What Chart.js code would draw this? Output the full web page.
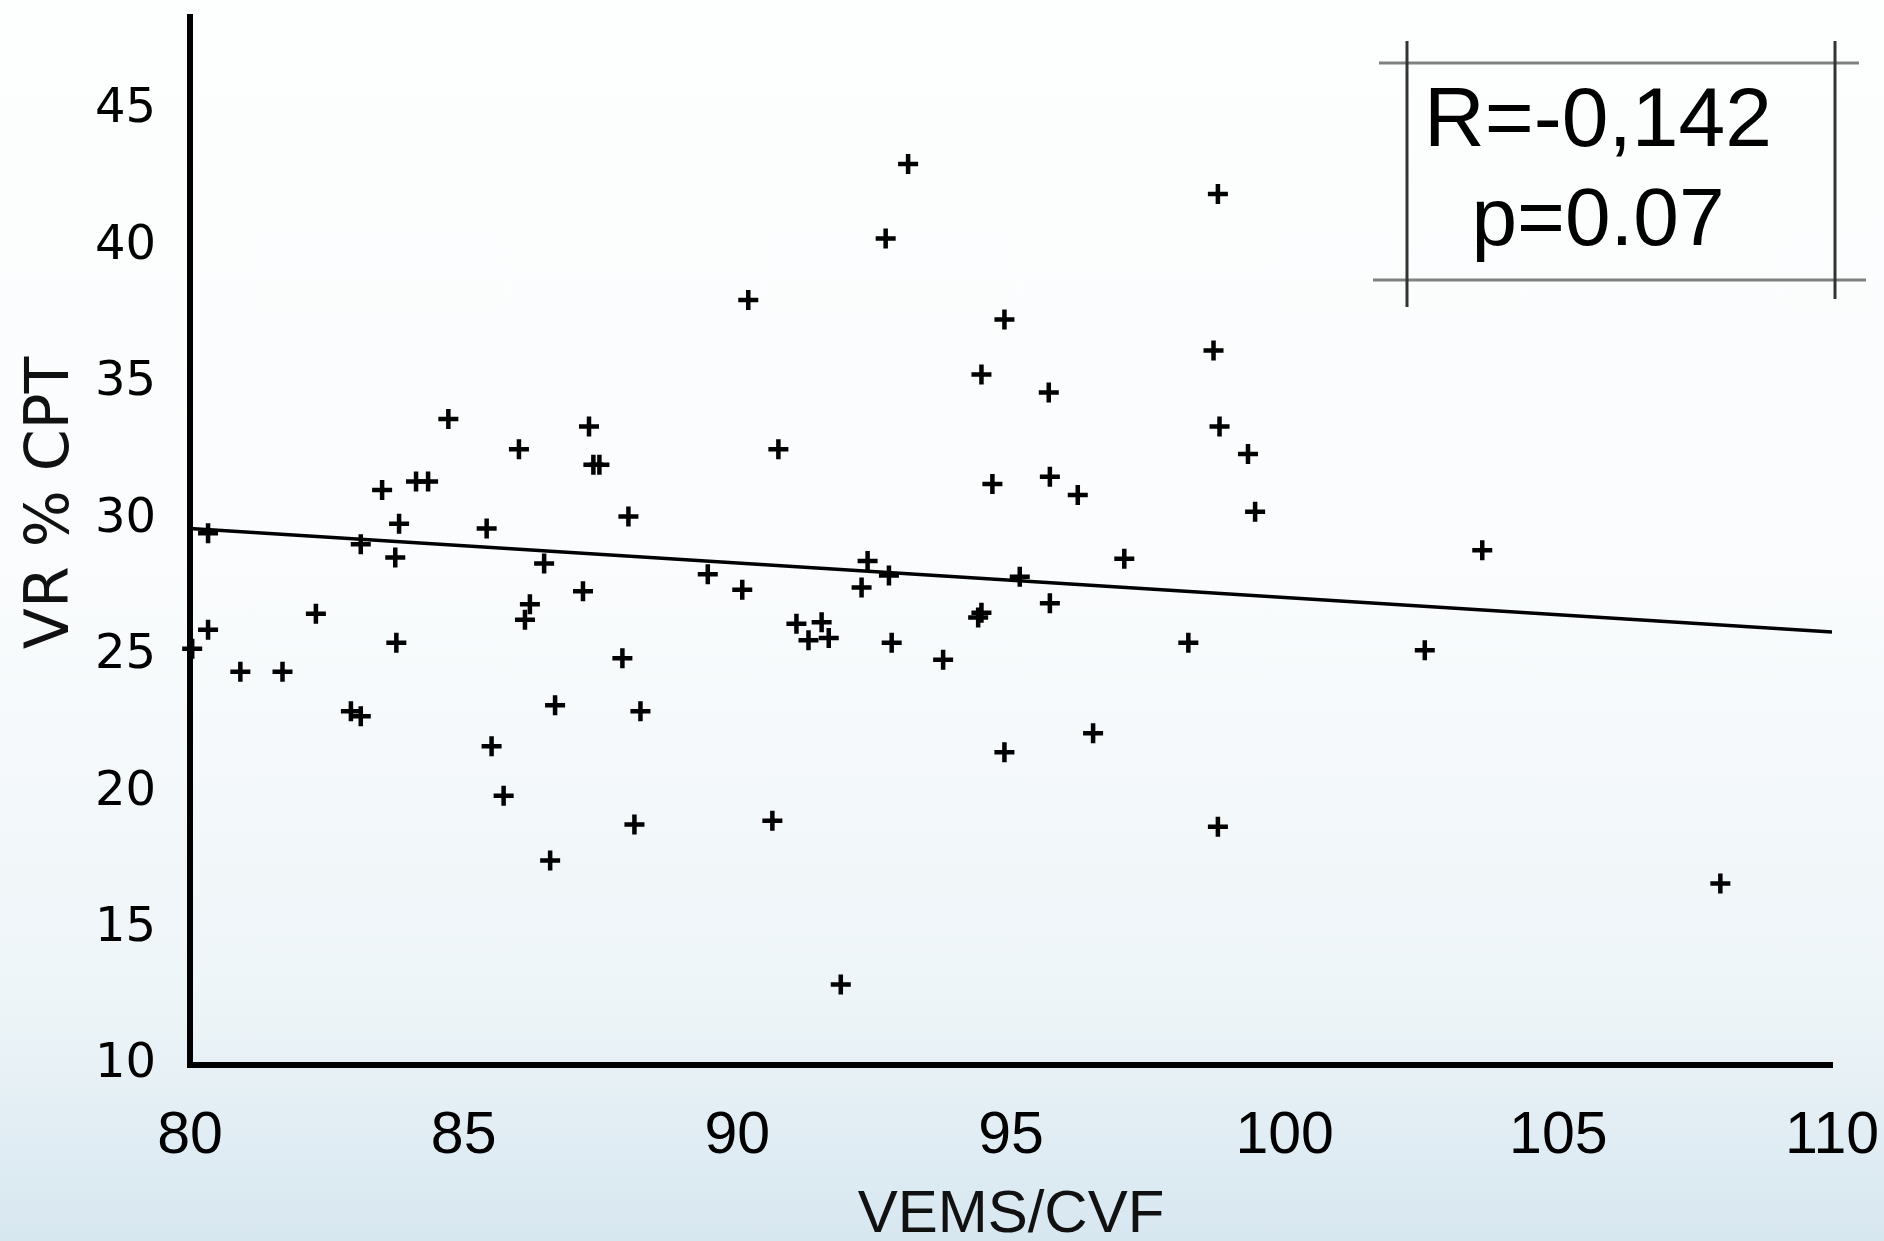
<!DOCTYPE html>
<html>
<head>
<meta charset="utf-8">
<title>VR % CPT vs VEMS/CVF</title>
<script src="https://cdn.jsdelivr.net/npm/chart.js@4.4.1/dist/chart.umd.min.js"></script>
<style>
  html, body { margin: 0; padding: 0; }
  body {
    width: 1884px; height: 1241px; overflow: hidden;
    background: linear-gradient(to bottom, #fdfefe 0%, #fafcfd 45%, #eef5f8 80%, #d7e7f0 100%);
  }
  #wrap { position: relative; width: 1884px; height: 1241px; }
</style>
</head>
<body>
<div id="wrap"><canvas id="scatter-chart"></canvas></div>
<script>
(function () {
    "use strict";

    // data
    var vemsCvf = [80.04, 80.33, 80.33, 80.92, 81.69, 82.30, 82.94, 83.12, 83.12, 83.51,
                   83.75, 83.82, 83.77, 84.13, 84.35, 84.72, 85.42, 85.51, 85.73, 86.01,
                   86.12, 86.21, 86.47, 86.58, 86.67, 87.18, 87.29, 87.37, 87.48, 87.90,
                   88.01, 88.12, 88.23, 89.46, 90.09, 90.20, 90.64, 90.75, 91.08, 91.30,
                   91.54, 91.67, 91.89, 92.27, 92.38, 92.71, 92.82, 92.77, 93.12, 93.76,
                   94.40, 94.46, 94.46, 94.66, 94.88, 94.88, 95.16, 95.69, 95.71, 95.71,
                   96.22, 96.50, 97.07, 98.24, 98.70, 98.78, 98.81, 98.78, 99.33, 99.46,
                   102.56, 103.61, 107.96];
    var vrCpt = [25.25, 29.48, 25.95, 24.41, 24.41, 26.53, 22.96, 22.78, 29.08, 31.07,
                 28.60, 29.83, 25.47, 31.38, 31.38, 33.67, 29.66, 21.68, 19.87, 32.56,
                 26.31, 26.88, 28.38, 17.49, 23.18, 27.36, 33.40, 31.99, 31.99, 24.90,
                 30.10, 18.81, 22.96, 27.98, 27.41, 38.03, 18.95, 32.56, 26.17, 25.56,
                 26.22, 25.65, 12.95, 27.50, 28.47, 40.28, 25.47, 27.94, 43.01, 24.85,
                 26.40, 35.30, 26.57, 31.29, 21.46, 37.32, 27.89, 34.64, 31.55, 26.92,
                 30.89, 22.16, 28.55, 25.47, 36.18, 41.91, 33.40, 18.73, 32.39, 30.27,
                 25.20, 28.86, 16.65];

    // regression line ends
    var trendX = [80, 110];
    var trendY = [29.66, 25.87];

    var xTicks = [80, 85, 90, 95, 100, 105, 110];
    var yTicks = [10, 15, 20, 25, 30, 35, 40, 45];

    var statLines = ["R=-0,142", "p=0.07"];

    var points = vemsCvf.map(function (x, i) { return {x: x, y: vrCpt[i]}; });
    var trend = trendX.map(function (x, i) { return {x: x, y: trendY[i]}; });

    // stats box in the top right corner
    var statsBox = {
        id: "statsBox",
        afterDraw: function (chart) {
            var ctx = chart.ctx;
            ctx.save();
            ctx.lineWidth = 3;
            ctx.strokeStyle = "#808080";
            ctx.beginPath();
            ctx.moveTo(1379, 63); ctx.lineTo(1859, 63);
            ctx.moveTo(1373, 280); ctx.lineTo(1866, 280);
            ctx.stroke();
            ctx.strokeStyle = "#333333";
            ctx.beginPath();
            ctx.moveTo(1407, 41); ctx.lineTo(1407, 307);
            ctx.moveTo(1835, 41); ctx.lineTo(1835, 299);
            ctx.stroke();

            ctx.fillStyle = "#000";
            ctx.textAlign = "center";
            ctx.textBaseline = "alphabetic";
            ctx.font = "84px 'Liberation Sans', Arial, sans-serif";
            ctx.fillText(statLines[0], 1598, 146);
            ctx.font = "82px 'Liberation Sans', Arial, sans-serif";
            ctx.fillText(statLines[1], 1598, 245);
            ctx.restore();
        }
    };

    // Scatter chart
    var ctx = document.getElementById("scatter-chart").getContext("2d");
    var myChart = new Chart(ctx, {
        type: "scatter",
        data: {
            datasets: [{
                label: "VR % CPT",
                data: points,
                pointStyle: "cross",
                pointRadius: 10,
                pointHoverRadius: 10,
                borderColor: "#000",
                borderWidth: 4.5,
                clip: false
            }, {
                type: "line",
                label: "trend",
                data: trend,
                borderColor: "#000",
                borderWidth: 3.5,
                pointRadius: 0,
                fill: false
            }]
        },
        options: {
            responsive: true,
            maintainAspectRatio: false,
            animation: false,
            layout: {padding: {top: 17, right: 52, bottom: 0, left: 0}},
            plugins: {
                legend: {display: false},
                tooltip: {enabled: false}
            },
            scales: {
                x: {
                    type: "linear",
                    min: 80,
                    max: 110,
                    grid: {display: false, drawTicks: false},
                    border: {display: true, color: "#000", width: 6},
                    afterBuildTicks: function (scale) {
                        scale.ticks = xTicks.map(function (v) { return {value: v}; });
                    },
                    afterFit: function (scale) {
                        scale.height = 176;
                        scale.paddingLeft = 0;
                        scale.paddingRight = 0;
                    },
                    ticks: {
                        color: "#000",
                        padding: 36,
                        maxRotation: 0,
                        font: {family: "'Liberation Sans', Arial, sans-serif", size: 59}
                    },
                    title: {
                        display: true,
                        text: "VEMS/CVF",
                        color: "#111",
                        padding: 0,
                        font: {family: "'Liberation Sans', Arial, sans-serif", size: 60, lineHeight: 0.85}
                    }
                },
                y: {
                    type: "linear",
                    min: 10,
                    max: 48.4,
                    grid: {display: false, drawTicks: false},
                    border: {display: true, color: "#000", width: 6},
                    afterBuildTicks: function (scale) {
                        scale.ticks = yTicks.map(function (v) { return {value: v}; });
                    },
                    afterFit: function (scale) {
                        scale.width = 190;
                        scale.paddingTop = 0;
                        scale.paddingBottom = 0;
                    },
                    ticks: {
                        color: "#000",
                        padding: 34,
                        font: {family: "'DejaVu Sans', sans-serif", size: 48}
                    },
                    title: {
                        display: true,
                        text: "    VR % CPT",
                        color: "#111",
                        padding: {top: 22, bottom: 0},
                        font: {family: "'DejaVu Sans', sans-serif", size: 60, lineHeight: 1}
                    }
                }
            }
        },
        plugins: [statsBox]
    });

})();
</script>
</body>
</html>
